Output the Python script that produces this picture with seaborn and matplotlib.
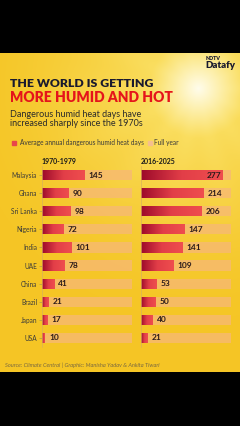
import numpy as np
import pandas as pd
import matplotlib
matplotlib.use("Agg")
import matplotlib.pyplot as plt
import seaborn as sns

countries = ["Malaysia", "Ghana", "Sri Lanka", "Nigeria", "India", "UAE", "China", "Brazil", "Japan", "USA"]
days_1970s = [145, 90, 98, 72, 101, 78, 41, 21, 17, 10]
days_2016 = [277, 214, 206, 147, 141, 109, 53, 50, 40, 21]
full_year = [305] * 10
period_labels = ["1970-1979", "2016-2025"]

W, H = 240, 426
fig = plt.figure(figsize=(W / 100, H / 100), dpi=100)
fig.patch.set_facecolor("black")

def fx(x):
    return x / W

def fy(y):
    return 1 - y / H

# Background panel with sun glow
PT, PB = 53, 372
bg = fig.add_axes([0, fy(PB), 1, (PB - PT) / H])
bg.set_axis_off()
yy, xx = np.mgrid[PT:PB, 0:W].astype(float)
base = np.array([245, 198, 38]) / 255
light = np.array([252, 230, 115]) / 255
white = np.array([255, 252, 235]) / 255
d = np.sqrt((xx - 198) ** 2 + (yy - 88) ** 2)
g1 = np.clip(1 - d / 230, 0, 1) ** 1.5
g2 = np.clip(1 - d / 50, 0, 1) ** 1.2
ang = np.arctan2(yy - 88, xx - 198)
rays = (0.5 + 0.5 * np.cos(ang * 14)) * np.clip(1 - d / 160, 0, 1) * 0.25
img = base[None, None, :] * (1 - g1[..., None]) + light[None, None, :] * g1[..., None]
img = img * (1 - rays[..., None]) + light[None, None, :] * rays[..., None]
img = img * (1 - g2[..., None]) + white[None, None, :] * g2[..., None]
bg.imshow(np.clip(img, 0, 1), extent=[0, W, PB, PT], aspect="auto", zorder=0)
bg.set_xlim(0, W)
bg.set_ylim(PB, PT)

# Titles
fig.text(fx(10), fy(83.5), "THE WORLD IS GETTING", fontsize=8.8, fontweight="heavy",
         family="Lato", color="#1a1a2e", va="center", ha="left")
fig.text(fx(10), fy(97.5), "MORE HUMID AND HOT", fontsize=10, fontweight="heavy",
         family="Lato", color="#e5141b", va="center", ha="left")
fig.text(fx(10.5), fy(114.5), "Dangerous humid heat days have", fontsize=6.5,
         family="Lato", color="#2b2b2b", va="center", ha="left")
fig.text(fx(10.5), fy(123), "increased sharply since the 1970s", fontsize=6.5,
         family="Lato", color="#2b2b2b", va="center", ha="left")

# Logo
fig.text(fx(206), fy(59), "NDTV", fontsize=3.8, fontweight="heavy", family="Lato",
         color="#1a1a2e", va="center", ha="left")
fig.text(fx(220), fy(65.5), "Datafy", fontsize=7, fontweight="heavy", family="Lato",
         color="#1a1a2e", va="center", ha="center")

# Legend
fig.patches.append(plt.Rectangle((fx(12), fy(144.5)), fx(4), 4 / H, transform=fig.transFigure,
                                 color="#e8464a", zorder=3))
fig.text(fx(20), fy(142.5), "Average annual dangerous humid heat days", fontsize=4.7,
         family="Lato", color="#3a3a3a", va="center", ha="left")
fig.patches.append(plt.Rectangle((fx(148), fy(144.5)), fx(4), 4 / H, transform=fig.transFigure,
                                 color="#f6bf8e", zorder=3))
fig.text(fx(154), fy(142.5), "Full year", fontsize=4.7, family="Lato", color="#3a3a3a",
         va="center", ha="left")

# Bar panels
row_top, row_bot = 166, 347
panels = [(42, 135, days_1970s, period_labels[0]), (141, 234, days_2016, period_labels[1])]
red_cmap = matplotlib.colors.LinearSegmentedColormap.from_list("rg", ["#9c0a2a", "#e23e48", "#ef4e4e"])
for i, (x0, x1, vals, lab) in enumerate(panels):
    ax = fig.add_axes([fx(x0), fy(row_bot), (x1 - x0) / W, (row_bot - row_top) / H])
    ax.patch.set_alpha(0)
    df = pd.DataFrame({"country": countries, "days": vals, "full": full_year})
    sns.barplot(data=df, y="country", x="full", color="#f7b877", alpha=0.75, width=0.56,
                ax=ax, saturation=1, zorder=1)
    n_full = len(ax.patches)
    sns.barplot(data=df, y="country", x="days", color="#e8404a", width=0.56,
                ax=ax, saturation=1, zorder=2)
    xmax = 316
    ax.set_xlim(0, xmax)
    ax.set_ylim(9.5, -0.5)
    grad = np.linspace(0, 1, 256)[None, :]
    for p in ax.patches[n_full:]:
        bx, by, bw, bh = p.get_x(), p.get_y(), p.get_width(), p.get_height()
        p.set_facecolor("none")
        im = ax.imshow(grad, cmap=red_cmap, extent=[bx, bx + max(bw, 1e-6), by + bh, by],
                       aspect="auto", zorder=2, interpolation="bilinear")
        im.set_clip_path(p)
    ax.set_xlim(0, xmax)
    ax.set_ylim(9.5, -0.5)
    for j, v in enumerate(vals):
        if v > 260:
            ax.text(v - 3, j, str(v), ha="right", va="center", fontsize=6.0, fontweight="bold",
                    family="Lato", color="#2a1a1a", zorder=4)
        else:
            ax.text(v + 14, j, str(v), ha="left", va="center", fontsize=6.0, fontweight="bold",
                    family="Lato", color="#2a1a1a", zorder=4)
    ax.set_xlabel("")
    ax.set_ylabel("")
    ax.set_xticks([])
    for s in ["top", "right", "bottom"]:
        ax.spines[s].set_visible(False)
    ax.spines["left"].set_color("#d9b25a")
    ax.spines["left"].set_linewidth(0.5)
    ax.tick_params(axis="y", length=2, width=0.4, color="#9a8a5a", pad=1.5)
    if i == 0:
        ax.set_yticks(range(len(countries)))
        ax.set_yticklabels(countries, fontsize=4.7, family="Lato", color="#3a3a3a")
    else:
        ax.set_yticks(range(len(countries)))
        ax.set_yticklabels([])
        ax.tick_params(axis="y", length=0)
    fig.text(fx(x0), fy(161), lab, fontsize=5.0, fontweight="bold", family="Lato",
             color="#1a1a1a", va="center", ha="left")

fig.text(fx(5), fy(365), "Source: Climate Central | Graphic: Manisha Yadav & Ankita Tiwari",
         fontsize=4.1, style="italic", family="Lato", color="#7a6a40", va="center", ha="left")

fig.savefig("out.png", dpi=100, facecolor="black")
